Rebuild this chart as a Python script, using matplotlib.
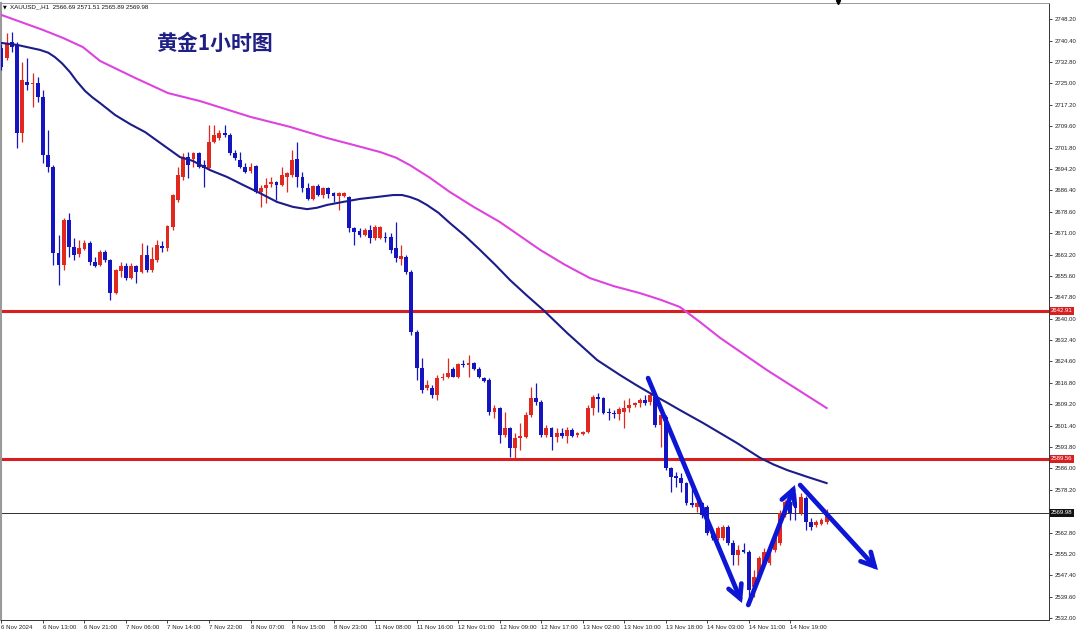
import numpy as np
import matplotlib
matplotlib.use("Agg")
import matplotlib.pyplot as plt
import matplotlib.transforms as mtransforms

# ---- data (XAUUSD H1) ----
opens = [2737.8, 2734.2, 2739.9, 2738.9, 2707.1, 2725.5, 2724.8, 2725.1, 2720.1, 2699.1,
         2694.8, 2663.8, 2659.4, 2675.7, 2665.9, 2663.4, 2665.2, 2667.4, 2660.5, 2659.4,
         2664.1, 2661.2, 2649.3, 2657.3, 2659.1, 2654.7, 2659.1, 2656.9, 2663.0, 2657.6,
         2661.2, 2666.3, 2665.6, 2673.2, 2682.9, 2691.2, 2698.4, 2697.7, 2699.9, 2695.5,
         2694.5, 2703.8, 2705.3, 2707.1, 2706.4, 2699.9, 2697.3, 2694.8, 2693.4, 2695.2,
         2685.8, 2687.2, 2688.7, 2689.4, 2688.3, 2691.2, 2691.9, 2697.7, 2691.2, 2687.2,
         2683.3, 2688.0, 2684.7, 2687.2, 2685.4, 2684.3, 2684.3, 2684.0, 2672.8, 2671.7,
         2670.3, 2672.1, 2669.2, 2669.2, 2669.5, 2669.5, 2665.6, 2661.6, 2662.3, 2656.9,
         2635.2, 2622.3, 2615.0, 2615.0, 2612.5, 2618.7, 2619.0, 2621.9, 2619.0, 2623.7,
         2623.3, 2624.0, 2621.9, 2618.7, 2617.9, 2606.4, 2607.8, 2598.1, 2600.6, 2593.4,
         2597.0, 2597.3, 2605.3, 2611.4, 2610.0, 2598.1, 2600.6, 2597.3, 2598.8, 2597.7,
         2599.9, 2598.1, 2598.4, 2599.1, 2607.8, 2611.8, 2611.4, 2606.4, 2606.0, 2605.7,
         2606.4, 2607.8, 2608.9, 2609.6, 2610.7, 2610.0, 2611.8, 2601.7, 2604.6, 2586.2,
         2583.3, 2582.5, 2580.7, 2573.5, 2572.1, 2573.5, 2572.1, 2563.8, 2560.9, 2560.9,
         2564.9, 2559.1, 2554.8, 2556.5, 2555.8, 2543.2, 2546.8, 2551.9, 2551.9, 2556.5,
         2559.1, 2569.2, 2573.9, 2573.9, 2569.9, 2575.3, 2566.7, 2565.6, 2566.0, 2566.69]
highs = [2739.2, 2743.2, 2743.5, 2739.9, 2732.7, 2734.2, 2728.8, 2727.3, 2722.6, 2708.2,
         2695.5, 2670.3, 2676.5, 2678.2, 2669.2, 2668.5, 2668.5, 2668.1, 2662.3, 2664.9,
         2664.9, 2661.5, 2658.0, 2660.5, 2660.2, 2660.2, 2659.4, 2667.4, 2666.7, 2665.9,
         2668.5, 2668.1, 2673.8, 2685.0, 2694.8, 2699.9, 2700.2, 2700.2, 2700.2, 2697.3,
         2710.0, 2710.0, 2708.2, 2710.0, 2707.1, 2700.9, 2700.2, 2696.3, 2696.3, 2695.5,
         2688.3, 2690.8, 2691.2, 2689.7, 2694.8, 2693.0, 2700.9, 2703.8, 2693.0, 2689.0,
         2688.3, 2688.7, 2687.6, 2687.6, 2685.8, 2685.8, 2685.8, 2684.3, 2673.2, 2672.8,
         2672.8, 2673.9, 2673.9, 2673.5, 2671.3, 2671.0, 2675.0, 2666.7, 2663.0, 2657.6,
         2635.9, 2625.9, 2617.9, 2616.1, 2619.7, 2620.4, 2625.9, 2622.6, 2624.0, 2625.1,
         2626.9, 2624.4, 2622.6, 2619.0, 2618.7, 2608.9, 2608.2, 2606.4, 2600.9, 2598.8,
         2602.4, 2606.4, 2615.4, 2616.8, 2610.7, 2601.7, 2600.9, 2600.6, 2600.6, 2600.9,
         2600.6, 2599.1, 2599.5, 2608.9, 2612.5, 2613.2, 2611.8, 2607.8, 2607.1, 2608.2,
         2610.7, 2611.4, 2610.0, 2611.4, 2612.5, 2613.2, 2613.2, 2605.6, 2605.3, 2586.5,
         2584.7, 2584.3, 2581.1, 2580.7, 2574.6, 2573.9, 2572.8, 2564.5, 2565.2, 2565.6,
         2565.6, 2560.2, 2558.4, 2559.1, 2556.5, 2549.3, 2554.4, 2557.3, 2558.4, 2562.7,
         2571.0, 2574.6, 2575.3, 2577.1, 2577.1, 2576.0, 2568.1, 2567.4, 2568.1, 2571.51]
lows = [2729.8, 2733.4, 2736.3, 2701.7, 2703.8, 2722.6, 2716.5, 2718.3, 2696.3, 2693.0,
        2659.4, 2652.2, 2657.6, 2662.3, 2661.2, 2662.3, 2664.9, 2659.4, 2658.7, 2659.1,
        2660.5, 2646.8, 2649.0, 2655.1, 2654.0, 2654.5, 2652.9, 2656.5, 2656.9, 2656.9,
        2660.5, 2664.1, 2664.5, 2672.1, 2682.2, 2690.1, 2690.8, 2694.8, 2694.5, 2687.6,
        2693.7, 2703.5, 2704.6, 2705.6, 2699.1, 2697.3, 2694.5, 2692.8, 2692.8, 2685.4,
        2680.4, 2681.8, 2687.6, 2682.9, 2688.0, 2685.8, 2691.2, 2687.6, 2685.8, 2682.9,
        2682.9, 2684.3, 2683.6, 2683.6, 2682.2, 2679.3, 2684.0, 2671.3, 2666.7, 2669.5,
        2669.9, 2667.4, 2668.5, 2668.8, 2667.7, 2663.8, 2660.5, 2659.4, 2656.2, 2634.2,
        2617.9, 2613.2, 2614.3, 2611.4, 2610.7, 2617.9, 2618.7, 2619.0, 2618.7, 2622.6,
        2619.0, 2621.5, 2618.7, 2617.2, 2605.3, 2604.2, 2595.2, 2597.3, 2590.1, 2589.8,
        2592.7, 2597.0, 2604.6, 2608.9, 2597.3, 2597.3, 2592.7, 2595.5, 2597.0, 2595.2,
        2597.3, 2597.3, 2598.1, 2598.8, 2605.3, 2606.4, 2605.8, 2603.5, 2604.2, 2603.5,
        2600.6, 2606.4, 2608.2, 2608.2, 2608.9, 2608.9, 2600.9, 2593.7, 2585.4, 2577.5,
        2579.3, 2577.5, 2572.8, 2572.1, 2570.3, 2568.1, 2562.0, 2560.2, 2560.2, 2560.2,
        2558.4, 2551.1, 2551.1, 2555.5, 2536.7, 2539.6, 2545.7, 2551.1, 2551.1, 2555.8,
        2558.4, 2568.5, 2567.4, 2567.4, 2569.2, 2563.8, 2563.8, 2564.9, 2565.6, 2565.89]
closes = [2730.9, 2739.6, 2738.1, 2707.1, 2726.2, 2724.4, 2725.1, 2720.1, 2699.1, 2694.8,
          2663.8, 2659.4, 2675.7, 2665.9, 2663.0, 2665.6, 2667.4, 2660.5, 2659.1, 2664.1,
          2661.2, 2649.3, 2657.6, 2659.1, 2654.7, 2659.1, 2656.9, 2663.0, 2657.6, 2661.6,
          2666.7, 2665.6, 2673.5, 2684.7, 2691.9, 2698.4, 2695.5, 2699.9, 2694.8, 2694.5,
          2703.8, 2706.4, 2707.1, 2706.4, 2699.9, 2698.1, 2694.8, 2693.0, 2694.8, 2685.8,
          2687.2, 2688.3, 2689.4, 2688.3, 2691.9, 2692.6, 2697.3, 2691.2, 2687.2, 2683.3,
          2688.0, 2684.7, 2687.2, 2685.1, 2684.3, 2685.4, 2685.4, 2672.8, 2671.3, 2670.3,
          2672.1, 2669.2, 2673.2, 2673.2, 2669.2, 2664.9, 2662.0, 2662.7, 2656.9, 2635.2,
          2622.3, 2614.3, 2616.1, 2612.5, 2618.7, 2619.0, 2620.4, 2619.0, 2623.7, 2623.3,
          2624.0, 2621.9, 2619.0, 2617.6, 2606.4, 2607.8, 2598.1, 2600.6, 2593.4, 2597.0,
          2597.7, 2605.3, 2611.4, 2610.0, 2598.1, 2600.6, 2597.3, 2598.8, 2597.7, 2599.9,
          2597.7, 2598.8, 2599.1, 2607.8, 2611.8, 2611.0, 2606.0, 2606.0, 2605.7, 2607.5,
          2607.8, 2608.9, 2609.6, 2610.7, 2609.6, 2612.5, 2601.7, 2605.3, 2586.2, 2582.9,
          2582.5, 2580.7, 2573.5, 2572.8, 2573.5, 2569.2, 2562.7, 2560.9, 2564.5, 2564.9,
          2559.1, 2554.8, 2556.5, 2555.8, 2542.1, 2546.8, 2553.7, 2555.8, 2557.3, 2561.2,
          2569.9, 2573.9, 2569.9, 2571.7, 2575.7, 2566.7, 2564.9, 2566.7, 2567.4, 2569.98]

# moving averages, read at sample candle positions
ma_fast_idx = [0, 3, 7.4, 9, 10.3, 11.7, 13.2, 14.5, 16.1, 17.5, 19, 21.9, 24.8, 27.7,
               30.6, 34.4, 36.9, 40.2, 43.5, 46.6, 49.8, 53.1, 56.2, 58.9, 60.8, 62.7,
               65.8, 69.1, 72.4, 75.5, 77.2, 78.7, 80.3, 82, 84.2, 86.4, 89.3, 92.2, 95.1,
               98, 101.2, 104.4, 109, 114.8, 119.2, 122.4, 125.6, 128.2, 130.7, 135.2,
               141.7, 146.2, 148.8, 151.4, 155.2, 159]
ma_fast_val = [2739.6, 2738.9, 2737.1, 2736.1, 2734.5, 2732.2, 2729.1, 2725.8, 2722.3,
               2720.0, 2717.9, 2713.6, 2710.3, 2707.4, 2703.5, 2698.4, 2697.0, 2693.7,
               2691.2, 2688.3, 2685.4, 2682.2, 2680.4, 2679.6, 2680.1, 2681.1, 2682.2,
               2683.3, 2684.0, 2684.7, 2684.7, 2684.0, 2682.9, 2681.1, 2678.3, 2674.6,
               2670.0, 2664.9, 2659.6, 2654.0, 2648.5, 2643.2, 2634.9, 2625.1, 2619.7,
               2616.0, 2612.5, 2609.8, 2607.1, 2602.4, 2595.2, 2589.8, 2587.4, 2585.4,
               2583.0, 2580.7]
ma_slow_idx = [0, 8, 12, 15.7, 19, 25.4, 32.1, 38.3, 48, 55.6, 62.7, 67.2, 73, 76,
               78.7, 82.5, 86.4, 91, 96, 103.8, 108.5, 113.4, 118, 123, 127, 130.7,
               134.5, 138.5, 147.5, 159]
ma_slow_val = [2749.7, 2744.3, 2741.3, 2738.1, 2733.1, 2727.3, 2721.5, 2718.6, 2712.9,
               2709.3, 2705.3, 2703.1, 2700.2, 2698.2, 2695.5, 2691.0, 2685.8, 2680.4,
               2675.0, 2664.9, 2659.6, 2654.7, 2651.8, 2649.3, 2646.9, 2644.3, 2639.0,
               2633.1, 2621.5, 2607.8]

levels = [2642.91, 2589.56]
last_price = 2569.98

ytick_vals = [2748.20, 2740.40, 2732.80, 2725.00, 2717.20, 2709.60, 2701.80, 2694.20,
              2686.40, 2678.60, 2671.00, 2663.20, 2655.60, 2647.80, 2640.00, 2632.40,
              2624.60, 2616.80, 2609.20, 2601.40, 2593.80, 2586.00, 2578.20, 2562.80,
              2555.20, 2547.40, 2539.60, 2532.00]
xtick_idx = list(range(0, 153, 8))
xtick_labels = ["6 Nov 2024", "6 Nov 13:00", "6 Nov 21:00", "7 Nov 06:00", "7 Nov 14:00",
                "7 Nov 22:00", "8 Nov 07:00", "8 Nov 15:00", "8 Nov 23:00", "11 Nov 08:00",
                "11 Nov 16:00", "12 Nov 01:00", "12 Nov 09:00", "12 Nov 17:00",
                "13 Nov 02:00", "13 Nov 10:00", "13 Nov 18:00", "14 Nov 03:00",
                "14 Nov 11:00", "14 Nov 19:00"]

# hand-drawn arrows: (start index, start price, end index, end price)
arrows = [(124.6, 2618.6, 142.7, 2537.4),
          (143.9, 2536.7, 152.9, 2580.0),
          (153.9, 2580.0, 168.9, 2549.3)]

header = "XAUUSD_,H1  2566.69 2571.51 2565.89 2569.98"
title = "黄金1小时图"
shift_marker_idx = 161.2

# ---- colours ----
UP = "#e0281e"
DOWN = "#1414c0"
MA_FAST = "#1c1c8a"
MA_SLOW = "#dd44dd"
ARROW = "#0c16d4"
LEVEL = "#d81e1e"

plt.rcParams["font.family"] = ["Liberation Sans", "DejaVu Sans"]

fig = plt.figure(figsize=(10.8, 6.35), dpi=100)
ax = fig.add_axes([1 / 1080, 1 - 620 / 635, 1048 / 1080, 617 / 635])

o = np.array(opens)
h = np.array(highs)
l = np.array(lows)
c = np.array(closes)
x = np.arange(len(o))
up = c >= o
cols = np.where(up, UP, DOWN)

ax.vlines(x, l, h, colors=cols, lw=0.9, zorder=3)
body_lo = np.minimum(o, c)
body_h = np.maximum(np.abs(c - o), 0.35)
ax.bar(x, body_h, bottom=body_lo, width=0.74, color=cols, linewidth=0, zorder=4)

ax.plot(ma_fast_idx, ma_fast_val, color=MA_FAST, lw=1.5, zorder=5)
ax.plot(ma_slow_idx, ma_slow_val, color=MA_SLOW, lw=1.5, zorder=5)

for lv in levels:
    ax.axhline(lv, color=LEVEL, lw=2.2, zorder=2)
ax.axhline(last_price, color="#303030", lw=0.7, zorder=2)

for x0, y0, x1, y1 in arrows:
    ax.annotate("", xy=(x1, y1), xytext=(x0, y0),
                arrowprops=dict(arrowstyle="->,head_length=0.95,head_width=0.5",
                                color=ARROW, lw=3.4, shrinkA=0, shrinkB=0,
                                capstyle="round", joinstyle="miter"),
                zorder=6)

ax.set_xlim(-0.08, 201.85)
ax.set_ylim(2531.28, 2754.02)

ax.yaxis.tick_right()
ax.set_yticks(ytick_vals, [f"{v:.2f}" for v in ytick_vals])
ax.tick_params(axis="y", direction="out", length=2.5, width=0.6, pad=1.5,
               labelsize=4.3, colors="#222222")
ax.set_xticks(xtick_idx, xtick_labels)
for t in ax.get_xticklabels():
    t.set_horizontalalignment("left")
ax.tick_params(axis="x", direction="out", length=2.5, width=0.6, pad=1.2,
               labelsize=4.4, colors="#222222")

for s in ["top", "right", "bottom"]:
    ax.spines[s].set_color("#333333")
    ax.spines[s].set_linewidth(0.7)
ax.spines["left"].set_color("#9a9a9a")
ax.spines["left"].set_linewidth(1.5)
ax.spines["top"].set_color("#9a9a9a")

# price boxes on the right scale
trans = mtransforms.blended_transform_factory(ax.transAxes, ax.transData)
for lv in levels:
    ax.text(1.002, lv, f"{lv:.2f}", transform=trans, ha="left", va="center",
            fontsize=4.3, color="white", zorder=10, clip_on=False,
            bbox=dict(boxstyle="square,pad=0.25", fc=LEVEL, ec="none"))
ax.text(1.002, last_price, f"{last_price:.2f}", transform=trans, ha="left",
        va="center", fontsize=4.3, color="white", zorder=10, clip_on=False,
        bbox=dict(boxstyle="square,pad=0.25", fc="#111111", ec="none"))

# chart-shift marker at the top edge
trans_top = mtransforms.blended_transform_factory(ax.transData, ax.transAxes)
ax.plot([shift_marker_idx], [1.002], marker="v", color="black", markersize=3,
        transform=trans_top, clip_on=False, zorder=10)

fig.text(3 / 1080, 1 - 7 / 635, "▼", fontsize=3.5, va="center", ha="left",
         family=["DejaVu Sans"])
fig.text(10 / 1080, 1 - 7 / 635, header, fontsize=4.5, va="center", ha="left",
         color="#111111")
fig.text(156 / 1080, 1 - 43 / 635, title, fontsize=15, fontweight="bold",
         color="#1f1f86", va="center", ha="left",
         family=["Noto Sans CJK SC", "DejaVu Sans"])

fig.savefig("out.png", dpi=100)
